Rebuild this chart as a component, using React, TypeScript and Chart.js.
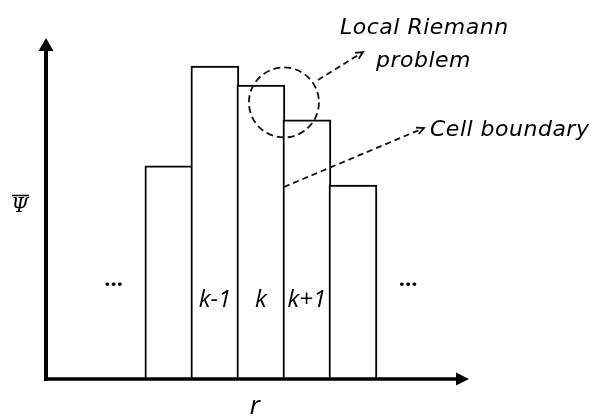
import React, { useEffect, useRef } from "react";
import { Chart, registerables } from "chart.js";

Chart.register(...registerables);

// Cell offsets relative to cell k, and the cell-averaged values
const cellOffsets = [-2, -1, 0, 1, 2];
const cellValues = [6.25, 9.18, 8.62, 7.6, 5.69];
const cellLabels = ["", "k-1", "k", "k+1", ""];
const ellipsisCells = [-3.2, 3.2];
const xRange = [-4.67, 4.5];
const yRange = [0, 10];
const axisTitleX = "r";
const axisTitleY = "\u03A8";
const noteRiemann = ["Local Riemann", "problem"];
const noteBoundary = "Cell boundary";

const FONT = "'Open Sans', Lato, sans-serif";
const NOTE_FONT = "'DejaVu Sans', 'Open Sans', sans-serif";

function arrowHead(ctx: CanvasRenderingContext2D, x0: number, y0: number, x1: number, y1: number, size: number) {
  const a = Math.atan2(y1 - y0, x1 - x0);
  ctx.save();
  ctx.setLineDash([]);
  ctx.beginPath();
  ctx.moveTo(x1 - size * Math.cos(a - 0.45), y1 - size * Math.sin(a - 0.45));
  ctx.lineTo(x1, y1);
  ctx.lineTo(x1 - size * Math.cos(a + 0.45), y1 - size * Math.sin(a + 0.45));
  ctx.stroke();
  ctx.restore();
}

const decorPlugin = {
  id: "decor",
  afterDatasetsDraw(chart: any) {
    const ctx: any = chart.ctx;
    const ca = chart.chartArea;
    const xs = chart.scales.x;
    const ys = chart.scales.y;
    ctx.save();
    ctx.fillStyle = "#000";
    ctx.strokeStyle = "#000";

    // y axis with arrow
    const ax = ca.left;
    const ay = ca.bottom;
    ctx.lineWidth = 4;
    ctx.beginPath();
    ctx.moveTo(ax, ay + 2);
    ctx.lineTo(ax, ca.top + 10);
    ctx.stroke();
    ctx.beginPath();
    ctx.moveTo(ax, ca.top);
    ctx.lineTo(ax - 7.5, ca.top + 13);
    ctx.lineTo(ax + 7.5, ca.top + 13);
    ctx.closePath();
    ctx.fill();

    // x axis with arrow
    ctx.lineWidth = 3.5;
    ctx.beginPath();
    ctx.moveTo(ax - 2, ay);
    ctx.lineTo(ca.right - 10, ay);
    ctx.stroke();
    ctx.beginPath();
    ctx.moveTo(ca.right + 1, ay);
    ctx.lineTo(ca.right - 12, ay - 6.5);
    ctx.lineTo(ca.right - 12, ay + 6.5);
    ctx.closePath();
    ctx.fill();

    // cell labels
    ctx.textAlign = "center";
    ctx.textBaseline = "alphabetic";
    ctx.font = `italic 24px ${FONT}`;
    cellLabels.forEach((lab, i) => {
      if (!lab) return;
      ctx.fillText(lab, xs.getPixelForValue(cellOffsets[i]), 307);
    });
    ctx.font = `bold 22px ${FONT}`;
    ellipsisCells.forEach((c) => ctx.fillText("...", xs.getPixelForValue(c), 286));

    // axis titles
    ctx.font = `italic 26px ${FONT}`;
    ctx.fillText(axisTitleX, 255, 414);
    ctx.font = `italic 20px 'DejaVu Serif', serif`;
    ctx.fillText(axisTitleY, 20, 212);
    ctx.lineWidth = 1.5;
    ctx.beginPath();
    ctx.moveTo(12, 195.5);
    ctx.lineTo(29, 195.5);
    ctx.stroke();

    // dashed circle: local Riemann problem at boundary between k and k+1
    const cx = xs.getPixelForValue(0.5);
    const cy = ys.getPixelForValue((cellValues[2] + cellValues[3]) / 2);
    ctx.lineWidth = 1.8;
    ctx.strokeStyle = "#111";
    ctx.setLineDash([7, 4]);
    ctx.beginPath();
    ctx.arc(cx, cy, 35, 0, Math.PI * 2);
    ctx.stroke();

    // arrow to "Local Riemann problem"
    ctx.setLineDash([6, 4]);
    ctx.beginPath();
    ctx.moveTo(318, 80);
    ctx.lineTo(363, 52);
    ctx.stroke();
    arrowHead(ctx, 318, 80, 363, 52, 8);

    // arrow to "Cell boundary"
    const bx = xs.getPixelForValue(0.5);
    ctx.beginPath();
    ctx.moveTo(bx, 187);
    ctx.lineTo(424, 128);
    ctx.stroke();
    arrowHead(ctx, bx, 187, 424, 128, 8);
    ctx.setLineDash([]);

    // annotation text
    ctx.fillStyle = "#000";
    ctx.textAlign = "left";
    ctx.font = `oblique 22px ${NOTE_FONT}`;
    ctx.letterSpacing = "0.5px";
    ctx.fillText(noteRiemann[0], 340, 34);
    ctx.fillText(noteRiemann[1], 376, 67);
    ctx.fillText(noteBoundary, 430, 136);
    ctx.letterSpacing = "0px";

    ctx.restore();
  },
};

export default function App() {
  const ref = useRef<HTMLCanvasElement>(null);
  useEffect(() => {
    if (!ref.current) return;
    const chart = new Chart(ref.current, {
      type: "bar",
      data: {
        datasets: [
          {
            data: cellOffsets.map((x, i) => ({ x, y: cellValues[i] })),
            backgroundColor: "#ffffff",
            borderColor: "#000000",
            borderWidth: 2,
            borderSkipped: "bottom",
            barThickness: "flex",
            barPercentage: 1.043,
            categoryPercentage: 1,
          } as any,
        ],
      },
      options: {
        responsive: false,
        animation: false,
        layout: { padding: { left: 46, right: 127, top: 38, bottom: 37 } },
        plugins: { legend: { display: false }, tooltip: { enabled: false }, title: { display: false } },
        scales: {
          x: { type: "linear", min: xRange[0], max: xRange[1], offset: false, display: false },
          y: { min: yRange[0], max: yRange[1], display: false },
        },
      },
      plugins: [decorPlugin],
    });
    return () => chart.destroy();
  }, []);
  return (
    <div style={{ position: "absolute", left: 0, top: 0, width: 595, height: 416, background: "#fff" }}>
      <canvas ref={ref} width={595} height={416} />
    </div>
  );
}
